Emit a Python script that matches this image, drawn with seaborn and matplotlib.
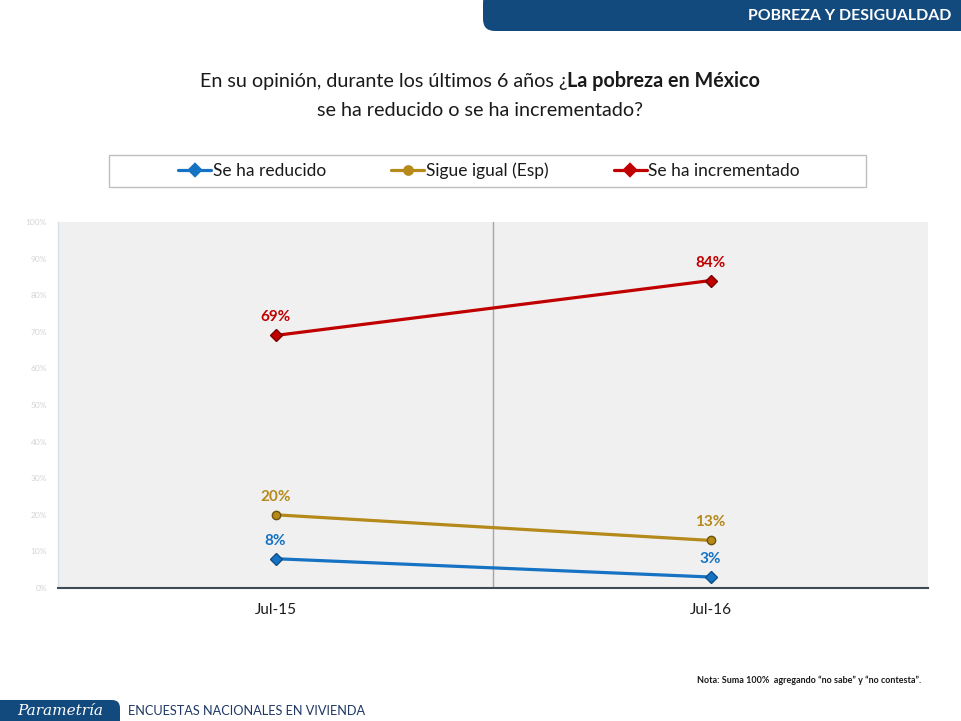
import numpy as np
import pandas as pd
import matplotlib
matplotlib.use('Agg')
import matplotlib.pyplot as plt
from matplotlib.patches import Rectangle, FancyBboxPatch
from matplotlib.transforms import IdentityTransform
import seaborn as sns

# datos
periodos = ['Jul-15', 'Jul-16']
series = ['Se ha reducido', 'Sigue igual (Esp)', 'Se ha incrementado']
reducido = [8, 3]
sigue_igual = [20, 13]
incrementado = [69, 84]
y_ticks = [0, 10, 20, 30, 40, 50, 60, 70, 80, 90, 100]

colores = {'Se ha reducido': '#1672C2',
           'Sigue igual (Esp)': '#B5891A',
           'Se ha incrementado': '#C00000'}
bordes = ['#0B4F8A', '#6E5208', '#7A0000']
marcadores = ['D', 'o', 'D']

df = pd.DataFrame({
    'periodo': periodos * 3,
    'serie': np.repeat(series, len(periodos)),
    'valor': reducido + sigue_igual + incrementado,
})

sns.set_style('white')
plt.rcParams['font.family'] = ['Lato', 'DejaVu Sans']

W, H = 961, 721
fig = plt.figure(figsize=(W / 100, H / 100), dpi=100)
fig.patch.set_facecolor('white')

def fx(px):
    return px / W

def fy(py):
    return 1 - py / H

ax = fig.add_axes([fx(58), fy(588), fx(928) - fx(58), fy(222) - fy(588)])
ax.set_facecolor('#f0f0f0')

sns.pointplot(data=df, x='periodo', y='valor', hue='serie', hue_order=series,
              order=periodos, palette=colores, markers=marcadores,
              linestyles='-', errorbar=None, dodge=False, ax=ax,
              markersize=6, linewidth=2.3)

for ln, ec in zip(ax.lines[:3], bordes):
    ln.set_markeredgecolor(ec)
    ln.set_markeredgewidth(1.0)

handles, labels = ax.get_legend_handles_labels()
if ax.get_legend() is not None:
    ax.get_legend().remove()

# etiquetas de datos
for serie, vals in zip(series, [reducido, sigue_igual, incrementado]):
    for i, v in enumerate(vals):
        ax.annotate(f'{v}%', (i, v), xytext=(0, 13), textcoords='offset points',
                    ha='center', va='center', color=colores[serie],
                    fontsize=11, fontweight='bold')

ax.set_xlim(-0.5, 1.5)
ax.set_ylim(0, 100)
ax.set_yticks(y_ticks)
ax.set_yticklabels([f'{t}%' for t in y_ticks], color='#d4d4d4', fontsize=6)
ax.tick_params(axis='y', length=0, pad=8)
ax.tick_params(axis='x', which='major', length=0, pad=11, labelsize=11,
               labelcolor='#1a1a1a')
ax.set_xticks([-0.5, 0.5, 1.5], minor=True)
ax.tick_params(axis='x', which='minor', length=6, width=1, color='#404040',
               direction='out')
ax.axvline(0.5, color='#a6a6a6', lw=1, zorder=0)
ax.set_xlabel('')
ax.set_ylabel('')
for s in ['top', 'right']:
    ax.spines[s].set_visible(False)
ax.spines['left'].set_color('#d6e0ea')
ax.spines['left'].set_linewidth(1)
ax.spines['bottom'].set_color('#404a55')
ax.spines['bottom'].set_linewidth(1.5)

# leyenda
fig.add_artist(Rectangle((fx(109), fy(187)), fx(866) - fx(109), fy(155) - fy(187),
                         transform=fig.transFigure, facecolor='white',
                         edgecolor='#bfbfbf', lw=1))
fig.legend(handles, labels, loc='center', bbox_to_anchor=(fx(489), fy(171)),
           ncol=3, frameon=False, fontsize=12.5, handlelength=1.9,
           handletextpad=0.1, columnspacing=3.75, labelcolor='#1a1a1a')

# titulo (parte normal + parte en negritas)
renderer = fig.canvas.get_renderer()
parte1 = 'En su opinión, durante los últimos 6 años ¿'
parte2 = 'La pobreza en México'
t1 = fig.text(0, fy(81), parte1, fontsize=14.2, color='#1a1a1a', va='center')
t2 = fig.text(0, fy(81), parte2, fontsize=14.2, color='#1a1a1a', va='center',
              fontweight='bold')
w1 = t1.get_window_extent(renderer).width
w2 = t2.get_window_extent(renderer).width
x0 = 480 - (w1 + w2) / 2
t1.set_x(fx(x0))
t2.set_x(fx(x0 + w1))
fig.text(fx(480), fy(111), 'se ha reducido o se ha incrementado?', fontsize=14.2,
         color='#1a1a1a', ha='center', va='center')

# encabezado
fig.add_artist(FancyBboxPatch((483, H - 31), 520, 40,
                              boxstyle='round,pad=0,rounding_size=12',
                              transform=IdentityTransform(),
                              facecolor='#134a7e', edgecolor='none'))
fig.text(fx(951), fy(16), 'POBREZA Y DESIGUALDAD', color='white',
         fontsize=11.4, fontweight='bold', ha='right', va='center')

# pie
fig.add_artist(FancyBboxPatch((-20, -10), 140, 31,
                              boxstyle='round,pad=0,rounding_size=8',
                              transform=IdentityTransform(),
                              facecolor='#134a7e', edgecolor='none'))
fig.text(fx(60), fy(711), 'Parametría', color='white', fontsize=11,
         fontstyle='italic', fontfamily='DejaVu Serif', ha='center', va='center')
fig.text(fx(128), fy(711), 'ENCUESTAS NACIONALES EN VIVIENDA', color='#1f3864',
         fontsize=9.2, ha='left', va='center')
fig.text(fx(921), fy(680), 'Nota: Suma 100%  agregando “no sabe” y “no contesta”.',
         color='#1a1a1a', fontsize=6.5, fontweight='bold', ha='right', va='center')

fig.savefig('out.png', dpi=100)
